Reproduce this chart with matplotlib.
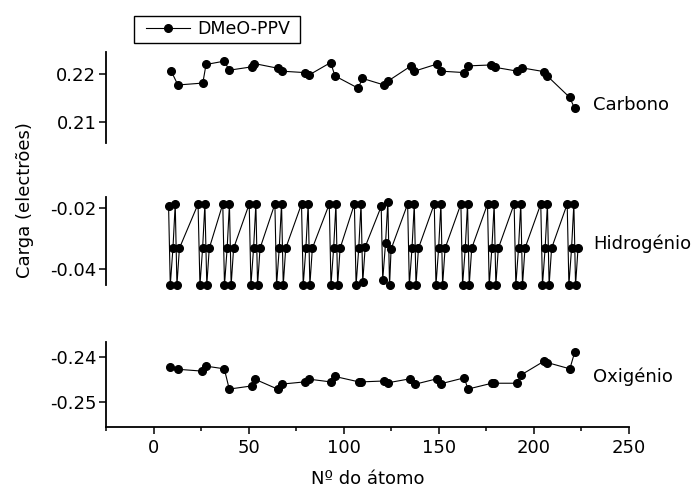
from __future__ import annotations

import matplotlib

matplotlib.use("Agg")
import matplotlib.pyplot as plt
from matplotlib.patches import Rectangle
from matplotlib.ticker import MultipleLocator


# Carbon charges
carbon_atom = [
    9.3, 12.8, 25.9, 27.6, 37.2, 39.8, 51.6, 52.9, 65.5, 67.3, 79.5, 81.8,
    93.1, 95.4, 107.7, 109.7, 121.2, 123.2, 135.4, 137.2, 149.1, 151.2,
    163.4, 165.1, 177.4, 179.6, 191.3, 193.6, 205.3, 207.0, 218.8, 221.4,
]
carbon_charge = [
    0.2206, 0.2177, 0.2181, 0.2220, 0.2227, 0.2208, 0.2215, 0.2222,
    0.2212, 0.2206, 0.2203, 0.2198, 0.2224, 0.2196, 0.2170, 0.2191,
    0.2177, 0.2185, 0.2217, 0.2206, 0.2221, 0.2206, 0.2203, 0.2217,
    0.2219, 0.2214, 0.2206, 0.2213, 0.2205, 0.2196, 0.2151, 0.2128,
]

# Hydrogen charges
hydrogen_atom = [
    7.9, 8.8, 10.2, 11.4, 12.3, 13.6,
    23.4, 24.4, 25.8, 27.0, 28.0, 29.3,
    36.4, 37.3, 38.7, 39.9, 40.8, 42.1,
    50.3, 51.2, 52.6, 53.8, 54.7, 56.0,
    63.8, 64.7, 66.1, 67.3, 68.2, 69.5,
    77.8, 78.7, 80.1, 81.3, 82.2, 83.5,
    92.4, 93.3, 94.7, 95.9, 96.8, 98.1,
    105.6, 106.5, 107.9, 109.1, 110.0, 111.3,
    119.7, 120.5, 122.0, 123.2, 124.1, 124.9,
    133.6, 134.5, 135.9, 137.1, 138.0, 139.3,
    147.6, 148.5, 149.9, 151.1, 152.0, 153.3,
    161.6, 162.5, 163.9, 165.1, 166.0, 167.3,
    175.6, 176.5, 177.9, 179.1, 180.0, 181.3,
    189.6, 190.5, 191.9, 193.1, 194.0, 195.3,
    203.6, 204.5, 205.9, 207.1, 208.0, 209.3,
    217.5, 218.4, 219.8, 221.0, 221.9, 223.2,
]
hydrogen_charge = [
    -0.0192, -0.0452, -0.0331, -0.0186, -0.0452, -0.0331,
    -0.0186, -0.0452, -0.0331, -0.0186, -0.0452, -0.0331,
    -0.0186, -0.0452, -0.0331, -0.0186, -0.0452, -0.0331,
    -0.0186, -0.0452, -0.0331, -0.0186, -0.0452, -0.0331,
    -0.0186, -0.0452, -0.0331, -0.0186, -0.0452, -0.0331,
    -0.0186, -0.0452, -0.0331, -0.0186, -0.0452, -0.0331,
    -0.0186, -0.0452, -0.0331, -0.0186, -0.0452, -0.0331,
    -0.0186, -0.0452, -0.0331, -0.0186, -0.0442, -0.0326,
    -0.0194, -0.0435, -0.0313, -0.0179, -0.0453, -0.0334,
    -0.0186, -0.0452, -0.0331, -0.0186, -0.0452, -0.0331,
    -0.0186, -0.0452, -0.0331, -0.0186, -0.0452, -0.0331,
    -0.0186, -0.0452, -0.0331, -0.0186, -0.0452, -0.0331,
    -0.0186, -0.0452, -0.0331, -0.0186, -0.0452, -0.0331,
    -0.0186, -0.0452, -0.0331, -0.0186, -0.0452, -0.0331,
    -0.0186, -0.0452, -0.0331, -0.0186, -0.0452, -0.0331,
    -0.0186, -0.0452, -0.0331, -0.0186, -0.0452, -0.0331,
]

# Oxygen charges
oxygen_atom = [
    8.4, 12.8, 25.4, 27.6, 37.2, 39.8, 51.6, 53.3, 65.2, 67.3, 79.5, 81.8,
    93.1, 95.4, 108.0, 109.2, 121.4, 123.2, 135.1, 137.7, 149.1, 151.2,
    163.4, 165.3, 177.9, 179.2, 191.3, 193.1, 205.3, 207.0, 218.9, 221.5,
]
oxygen_charge = [
    -0.2424, -0.2428, -0.2432, -0.2421, -0.2427, -0.2472, -0.2465, -0.2450,
    -0.2472, -0.2461, -0.2456, -0.2450, -0.2456, -0.2444, -0.2456, -0.2456,
    -0.2454, -0.2458, -0.2449, -0.2461, -0.2449, -0.2460, -0.2447, -0.2472,
    -0.2459, -0.2459, -0.2459, -0.2441, -0.2410, -0.2413, -0.2427, -0.2389,
]

panel_names = ["Carbono", "Hidrogénio", "Oxigénio"]
series_label = "DMeO-PPV"

W, H = 693, 490


def fig_rect(left_px, top_px, right_px, bottom_px):
    return [left_px / W, 1 - bottom_px / H, (right_px - left_px) / W, (bottom_px - top_px) / H]


def style_axis(ax, ylim, yticks, show_x):
    ax.set_xlim(-25, 250)
    ax.set_ylim(*ylim)
    ax.set_yticks(yticks)
    ax.set_yticklabels([f"{t:.2f}" for t in yticks])
    ax.set_facecolor("none")
    for side in ("top", "right"):
        ax.spines[side].set_visible(False)
    ax.spines["left"].set_linewidth(1.3)
    ax.tick_params(axis="y", direction="out", length=5, width=1.1, pad=2, labelsize=13)
    if show_x:
        ax.spines["bottom"].set_linewidth(1.3)
        ax.xaxis.set_major_locator(MultipleLocator(50))
        ax.xaxis.set_minor_locator(MultipleLocator(25))
        ax.tick_params(axis="x", which="major", direction="out", length=5, width=1.1, pad=4, labelsize=13)
        ax.tick_params(axis="x", which="minor", direction="out", length=3, width=1.1)
    else:
        ax.spines["bottom"].set_visible(False)
        ax.set_xticks([])


def main() -> None:
    plt.rcParams["font.family"] = ["DejaVu Sans"]
    plt.rcParams["axes.unicode_minus"] = False

    fig = plt.figure(figsize=(W / 100, H / 100), dpi=100)

    ax_c = fig.add_axes(fig_rect(106, 51.7, 629, 143.3))
    ax_h = fig.add_axes(fig_rect(106, 196.7, 629, 285))
    ax_o = fig.add_axes(fig_rect(106, 341.7, 629, 426.7))

    line_kw = dict(color="black", lw=0.8, marker="o", ms=5.5, mfc="black", mec="black", clip_on=False)
    (line,) = ax_c.plot(carbon_atom, carbon_charge, **line_kw)
    ax_h.plot(hydrogen_atom, hydrogen_charge, **line_kw)
    ax_o.plot(oxygen_atom, oxygen_charge, **line_kw)

    style_axis(ax_c, (0.20547, 0.22468), [0.21, 0.22], show_x=False)
    style_axis(ax_h, (-0.04515, -0.0162), [-0.04, -0.02], show_x=False)
    style_axis(ax_o, (-0.25556, -0.23667), [-0.25, -0.24], show_x=True)

    ax_o.set_xlabel("Nº do átomo", fontsize=13, labelpad=9)
    fig.text(25 / W, 1 - 200 / H, "Carga (electrões)", rotation=90, ha="center", va="center", fontsize=13)

    for name, y_px in zip(panel_names, (105, 244, 377)):
        fig.text(593 / W, 1 - y_px / H, name, ha="left", va="center", fontsize=13)

    # legend without its own frame, boxed by a plain rectangle
    fig.legend(
        handles=[line],
        labels=[series_label],
        loc="center left",
        bbox_to_anchor=(146 / W, 1 - 29.5 / H),
        borderaxespad=0,
        borderpad=0,
        frameon=False,
        fontsize=12.5,
        handlelength=2.55,
        handletextpad=0.4,
    )
    fig.patches.append(
        Rectangle(
            (134 / W, 1 - 43 / H), 166 / W, 27 / H,
            transform=fig.transFigure, fill=False, edgecolor="black", linewidth=1.0,
        )
    )

    fig.savefig("out.png", dpi=100)
    plt.close(fig)


if __name__ == "__main__":
    main()
